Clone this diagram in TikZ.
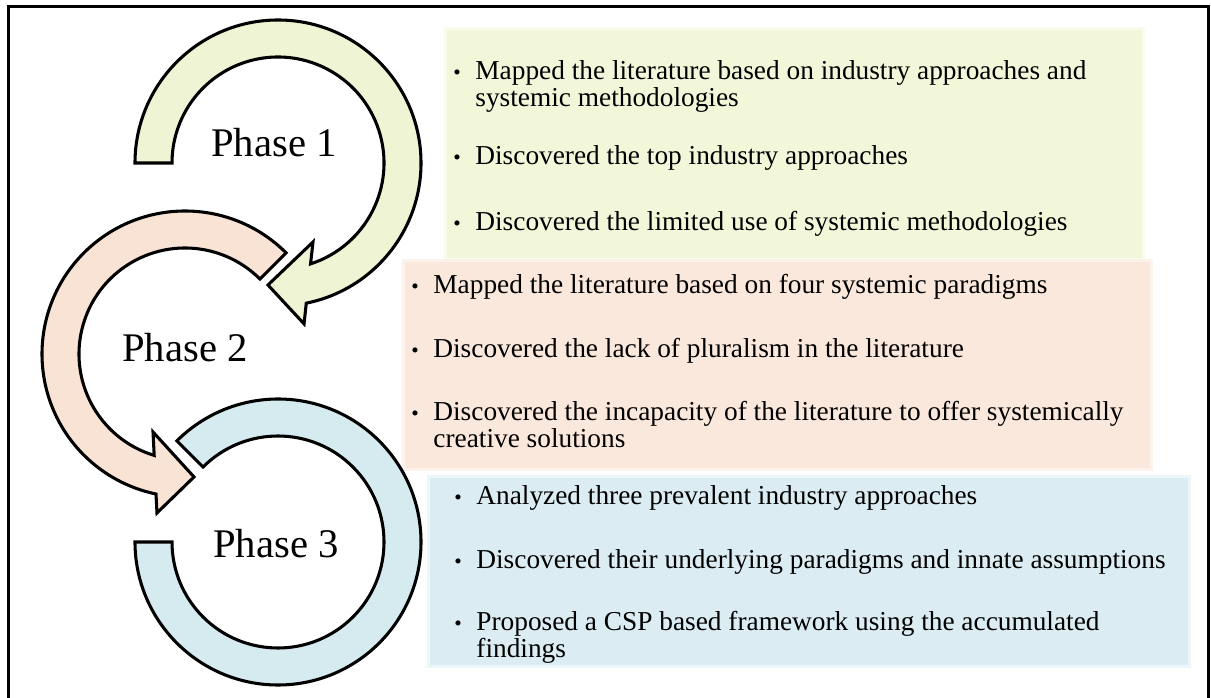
\documentclass[tikz,border=0pt]{standalone}
\usepackage{fontspec}
\setmainfont{Liberation Serif}
\usetikzlibrary{calc}
\definecolor{pgreen}{RGB}{243,247,218}
\definecolor{ppeach}{RGB}{251,232,220}
\definecolor{pblue}{RGB}{219,237,243}
\definecolor{rgreen}{RGB}{239,245,212}
\definecolor{rpeach}{RGB}{248,227,213}
\definecolor{rblue}{RGB}{213,235,240}
\def\Rout{143}
\def\Rin{106}
\newcommand{\bul}{{\fontsize{16}{16}\selectfont\textbullet}}
\tikzset{
  every picture/.style={x=0.75pt, y=0.75pt},
  band/.style={draw=black, fill=#1, line width=2.3pt, line join=miter},
  panel/.style={fill=#1, draw=#1, draw opacity=0.5, line width=5pt},
  phase/.style={font=\fontsize{30.5}{30.5}\selectfont, anchor=base, inner sep=0pt},
  item/.style={font=\fontsize{20.5}{19.5}\selectfont, anchor=base west, inner sep=0pt},
}

\begin{document}
\begin{tikzpicture}
\useasboundingbox (0,0) rectangle (1211,-698);
\clip (0,0) rectangle (1211,-698);
% coloured panels behind the findings
\path[panel=pgreen] (447,-30) rectangle (1142,-258);
\path[panel=ppeach] (405,-262) rectangle (1150,-468);
\path[panel=pblue] (430,-478) rectangle (1188,-665);
% frame, open at the bottom
\draw[line width=2.25pt] (8,-760) -- (8,-7) -- (1208,-7) -- (1208,-760);
% ring centres
\coordinate (c1) at (278,-163);
\coordinate (c2) at (185,-354);
\coordinate (c3) at (278,-542);
% phase 3 ring
\draw[band=rblue] ($(c3)+(180:\Rout)$) arc[start angle=180, end angle=495, radius=\Rout]
  -- ($(c3)+(135:\Rin)$) arc[start angle=495, end angle=180, radius=\Rin] -- cycle;
% phase 2 arrow
\draw[band=rpeach] ($(c2)+(45:\Rout)$) arc[start angle=45, end angle=258.3, radius=\Rout]
  -- ($(c2)+(260:161.4)$) -- ($(c2)+(274.2:123.3)$) -- ($(c2)+(247.7:84.3)$)
  -- ($(c2)+(253.1:\Rin)$) arc[start angle=253.1, end angle=45, radius=\Rin] -- cycle;
% phase 1 arrow
\draw[band=rgreen] ($(c1)+(180:\Rout)$) arc[start angle=180, end angle=-78.6, radius=\Rout]
  -- ($(c1)+(-80.8:163)$) -- ($(c1)+(-94.7:122.4)$) -- ($(c1)+(-66.1:86.4)$)
  -- ($(c1)+(-72.1:\Rin)$) arc[start angle=-72.1, end angle=180, radius=\Rin] -- cycle;
% phase labels
\node[phase] (ph1) at (274,-157) {Phase 1};
\node[phase] (ph2) at (185,-362) {Phase 2};
\node[phase] (ph3) at (276,-557) {Phase 3};
% findings
\node[item] (f1a) at (453,-80) {\begin{tabular}[t]{@{}l@{\hspace{11pt}}l@{}}\bul & Mapped the literature based on industry approaches and\\ & systemic methodologies\end{tabular}};
\node[item] (f1b) at (453,-165) {\bul\hspace{11pt}Discovered the top industry approaches};
\node[item] (f1c) at (453,-231) {\bul\hspace{11pt}Discovered the limited use of systemic methodologies};
\node[item] (f2a) at (411,-294) {\bul\hspace{11pt}Mapped the literature based on four systemic paradigms};
\node[item] (f2b) at (411,-358) {\bul\hspace{11pt}Discovered the lack of pluralism in the literature};
\node[item] (f2c) at (411,-421) {\begin{tabular}[t]{@{}l@{\hspace{11pt}}l@{}}\bul & Discovered the incapacity of the literature to offer systemically\\ & creative solutions\end{tabular}};
\node[item] (f3a) at (454,-505) {\bul\hspace{11pt}Analyzed three prevalent industry approaches};
\node[item] (f3b) at (454,-568) {\bul\hspace{11pt}Discovered their underlying paradigms and innate assumptions};
\node[item] (f3c) at (454,-630) {\begin{tabular}[t]{@{}l@{\hspace{11pt}}l@{}}\bul & Proposed a CSP based framework using the accumulated\\ & findings\end{tabular}};
\end{tikzpicture}
\end{document}
